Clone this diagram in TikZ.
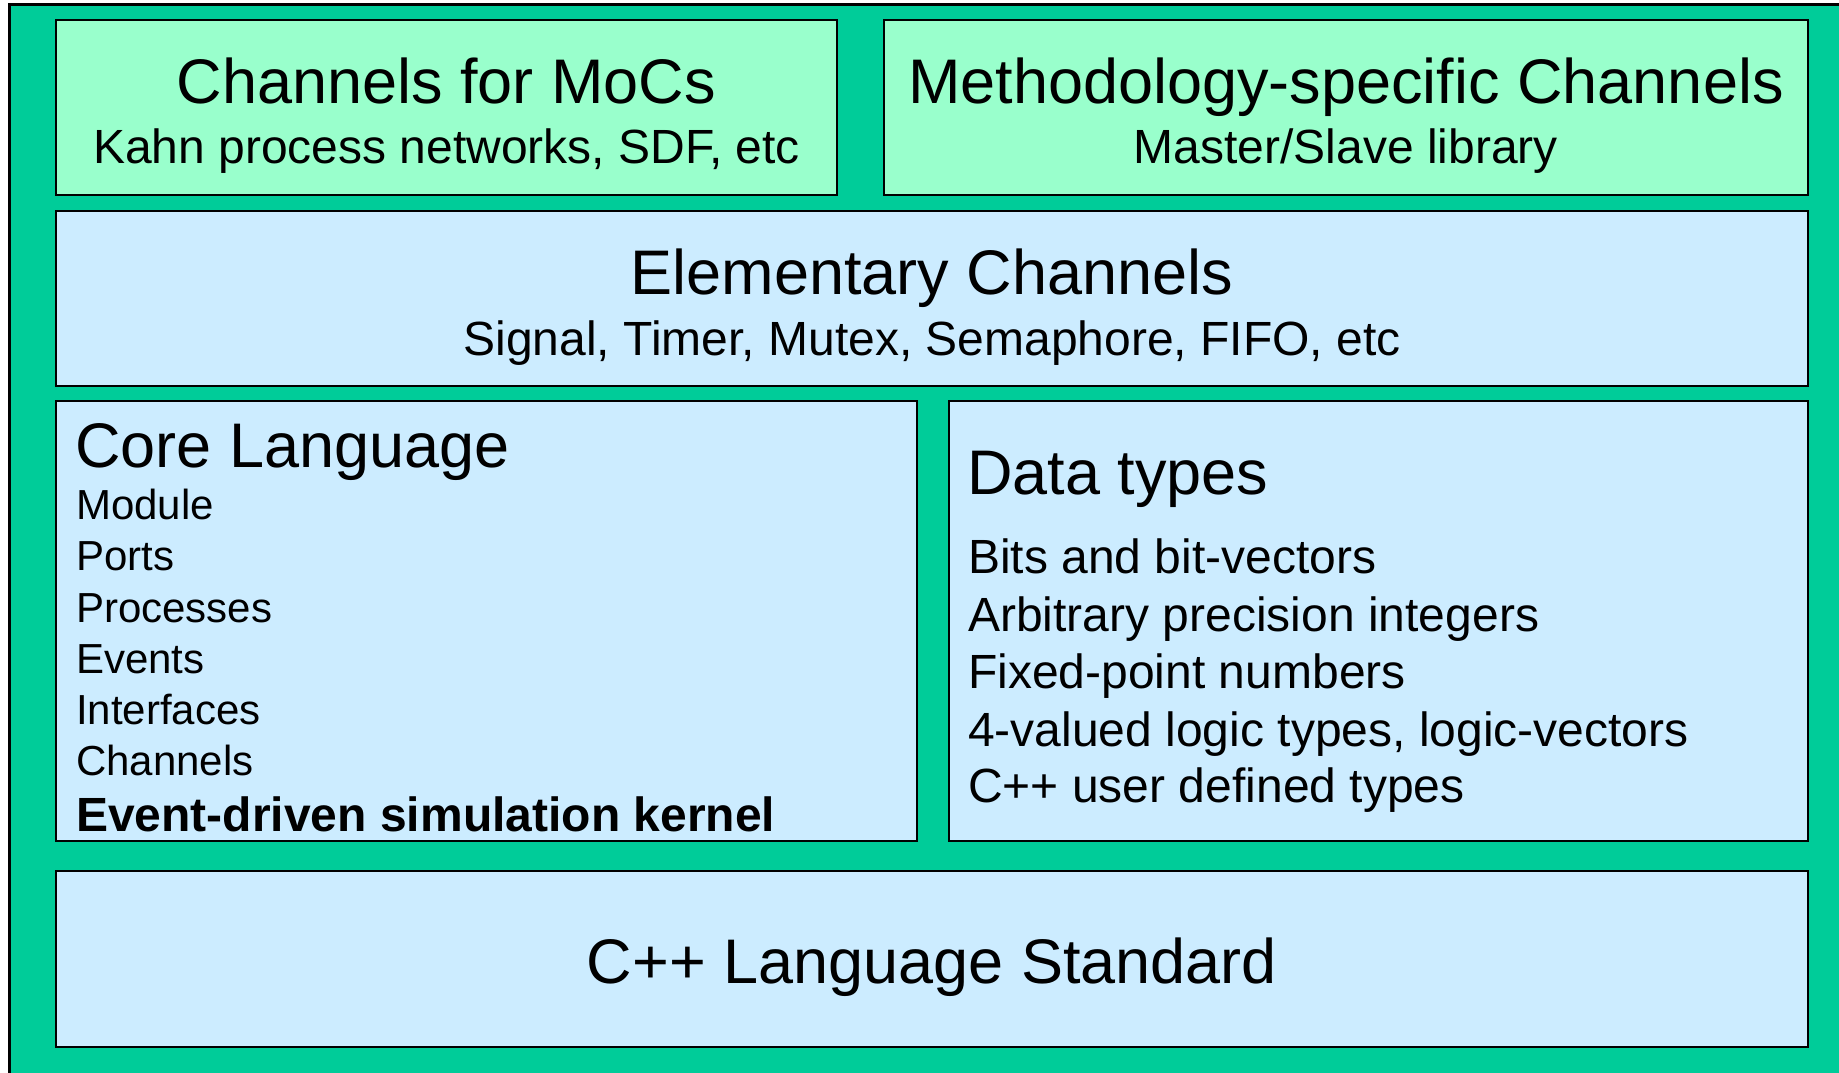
\documentclass[tikz,border=0pt]{standalone}
\usepackage{fontspec}
\setmainfont{Liberation Sans}
\definecolor{outergreen}{HTML}{00CC99}
\definecolor{lightgreen}{HTML}{99FFCC}
\definecolor{lightblue}{HTML}{CCECFF}
\begin{document}
\begin{tikzpicture}[x=0.75pt,y=-0.75pt,
  greenbox/.style={draw=black,line width=1.5pt,fill=lightgreen},
  bluebox/.style={draw=black,line width=1.5pt,fill=lightblue},
  bigtxt/.style={inner sep=0pt,font=\fontsize{47.25}{56}\selectfont},
  medtxt/.style={inner sep=0pt,font=\fontsize{36}{43}\selectfont},
  smalltxt/.style={inner sep=0pt,anchor=base west,font=\fontsize{31.5}{38}\selectfont}]
\useasboundingbox (0,0) rectangle (1839,1073);
\fill[white] (0,0) rectangle (1839,1073);
\draw[line width=2.25pt,fill=outergreen] (9,5) rectangle (1860,1090);
% boxes
\path[greenbox] (56,20) rectangle (837,195);
\path[greenbox] (884,20) rectangle (1808,195);
\path[bluebox] (56,211) rectangle (1808,386);
\path[bluebox] (56,401) rectangle (917,841);
\path[bluebox] (949,401) rectangle (1808,841);
\path[bluebox] (56,871) rectangle (1808,1047);
% top-left
\node[bigtxt,anchor=base] (moc) at (446.5,104) {Channels for MoCs};
\node[medtxt,anchor=base] (mocsub) at (446.5,164) {Kahn process networks, SDF, etc};
% top-right
\node[bigtxt,anchor=base] (meth) at (1346,104) {Methodology-specific Channels};
\node[medtxt,anchor=base] (methsub) at (1346,164) {Master/Slave library};
% elementary
\node[bigtxt,anchor=base] (elem) at (932,295) {Elementary Channels};
\node[medtxt,anchor=base] (elemsub) at (932,355) {Signal, Timer, Mutex, Semaphore, FIFO, etc};
% core language
\node[bigtxt,anchor=base west] (core) at (75,467) {Core Language};
\node[smalltxt] (c1) at (76,519) {Module};
\node[smalltxt] (c2) at (76,570) {Ports};
\node[smalltxt] (c3) at (76,622) {Processes};
\node[smalltxt] (c4) at (76,673) {Events};
\node[smalltxt] (c5) at (76,724) {Interfaces};
\node[smalltxt] (c6) at (76,775) {Channels};
\node[medtxt,anchor=base west,font=\fontsize{36}{43}\selectfont\bfseries] (c7) at (76,831) {Event-driven simulation kernel};
% data types
\node[bigtxt,anchor=base west] (data) at (967,494) {Data types};
\node[medtxt,anchor=base west] (d1) at (968,573) {Bits and bit-vectors};
\node[medtxt,anchor=base west] (d2) at (968,631) {Arbitrary precision integers};
\node[medtxt,anchor=base west] (d3) at (968,688) {Fixed-point numbers};
\node[medtxt,anchor=base west] (d4) at (968,746) {4-valued logic types, logic-vectors};
\node[medtxt,anchor=base west] (d5) at (968,802) {C++ user defined types};
% C++
\node[bigtxt,anchor=base] (cpp) at (932,983) {C++ Language Standard};
\end{tikzpicture}
\end{document}
